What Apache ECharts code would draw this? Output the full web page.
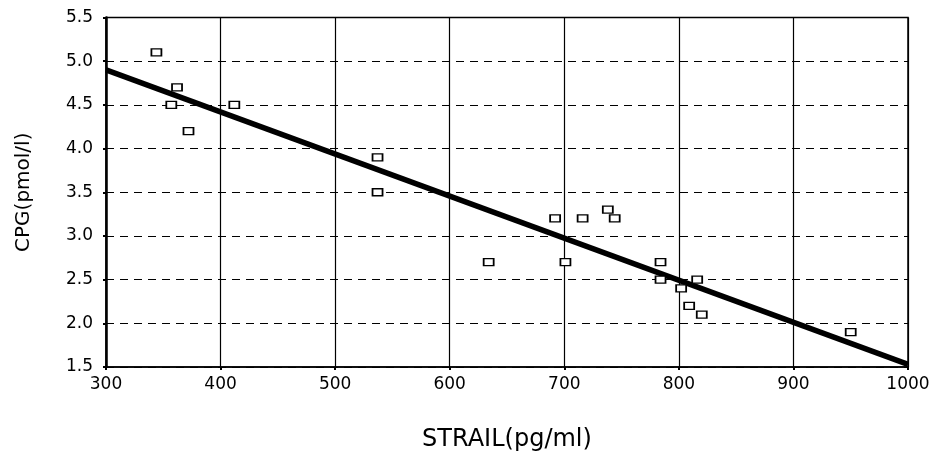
<!DOCTYPE html>
<html>
<head>
<meta charset="utf-8">
<script src="https://cdn.jsdelivr.net/npm/echarts@6/dist/echarts.min.js"></script>
<style>
  html, body { margin: 0; padding: 0; background: #fff; }
  #main { width: 934px; height: 451px; }
</style>
</head>
<body>
<div id="main"></div>
<script>
// scatter points
var strail = [344, 362, 357, 372, 412, 537, 537, 634, 692, 716, 738, 744, 701, 784, 784, 802, 816, 809, 820, 950];
var cpg = [5.1, 4.7, 4.5, 4.2, 4.5, 3.9, 3.5, 2.7, 3.2, 3.2, 3.3, 3.2, 2.7, 2.7, 2.5, 2.4, 2.5, 2.2, 2.1, 1.9];

// fitted line end points
var fitX = [300, 1000];
var fitY = [4.9, 1.53];

var xTicks = [300, 400, 500, 600, 700, 800, 900, 1000];
var yTicks = [1.5, 2.0, 2.5, 3.0, 3.5, 4.0, 4.5, 5.0, 5.5];

var points = strail.map(function (x, i) { return [x, cpg[i]]; });
var fit = fitX.map(function (x, i) { return [x, fitY[i]]; });

var chartDom = document.getElementById('main');
var myChart = echarts.init(chartDom);
var font = 'DejaVu Sans';

var option = {
  animation: false,
  backgroundColor: '#fff',
  grid: {
    left: 106, right: 26, top: 17.5, bottom: 84,
    outerBoundsMode: 'none',
    containLabel: false,
    show: true, borderColor: '#000', borderWidth: 1.5
  },
  xAxis: {
    type: 'value',
    min: xTicks[0], max: xTicks[xTicks.length - 1], interval: 100,
    name: 'STRAIL(pg/ml)',
    nameLocation: 'middle',
    nameGap: 61,
    nameTextStyle: { fontFamily: font, fontSize: 24, color: '#000' },
    axisLine: { lineStyle: { color: '#000', width: 1.5 } },
    axisTick: { show: true, length: 3, lineStyle: { color: '#000', width: 2 } },
    axisLabel: {
      fontFamily: font, fontSize: 17, color: '#000', margin: 9,
      formatter: function (v) { return String(v); }
    },
    splitLine: { show: true, lineStyle: { color: '#000', width: 1.2, type: 'solid' } }
  },
  yAxis: {
    type: 'value',
    min: yTicks[0], max: yTicks[yTicks.length - 1], interval: 0.5,
    name: 'CPG(pmol/l)',
    nameLocation: 'middle',
    nameRotate: 90,
    nameGap: 72,
    nameTextStyle: { fontFamily: font, fontSize: 20, color: '#000' },
    axisLine: { lineStyle: { color: '#000', width: 2.5 } },
    axisTick: { show: true, length: 3, lineStyle: { color: '#000', width: 2 } },
    axisLabel: {
      fontFamily: font, fontSize: 17, color: '#000', margin: 13,
      formatter: function (v) { return v.toFixed(1); }
    },
    splitLine: { show: true, lineStyle: { color: '#000', width: 1.2, type: [8, 6] } }
  },
  series: [
    {
      type: 'line',
      data: fit,
      showSymbol: false,
      symbol: 'none',
      lineStyle: { color: '#000', width: 5.5 },
      z: 3
    },
    {
      type: 'scatter',
      data: points,
      symbol: 'rect',
      symbolSize: [10, 7],
      itemStyle: { color: '#fff', borderColor: '#000', borderWidth: 1.5, opacity: 1 },
      z: 4
    }
  ]
};

option && myChart.setOption(option);
</script>
</body>
</html>
